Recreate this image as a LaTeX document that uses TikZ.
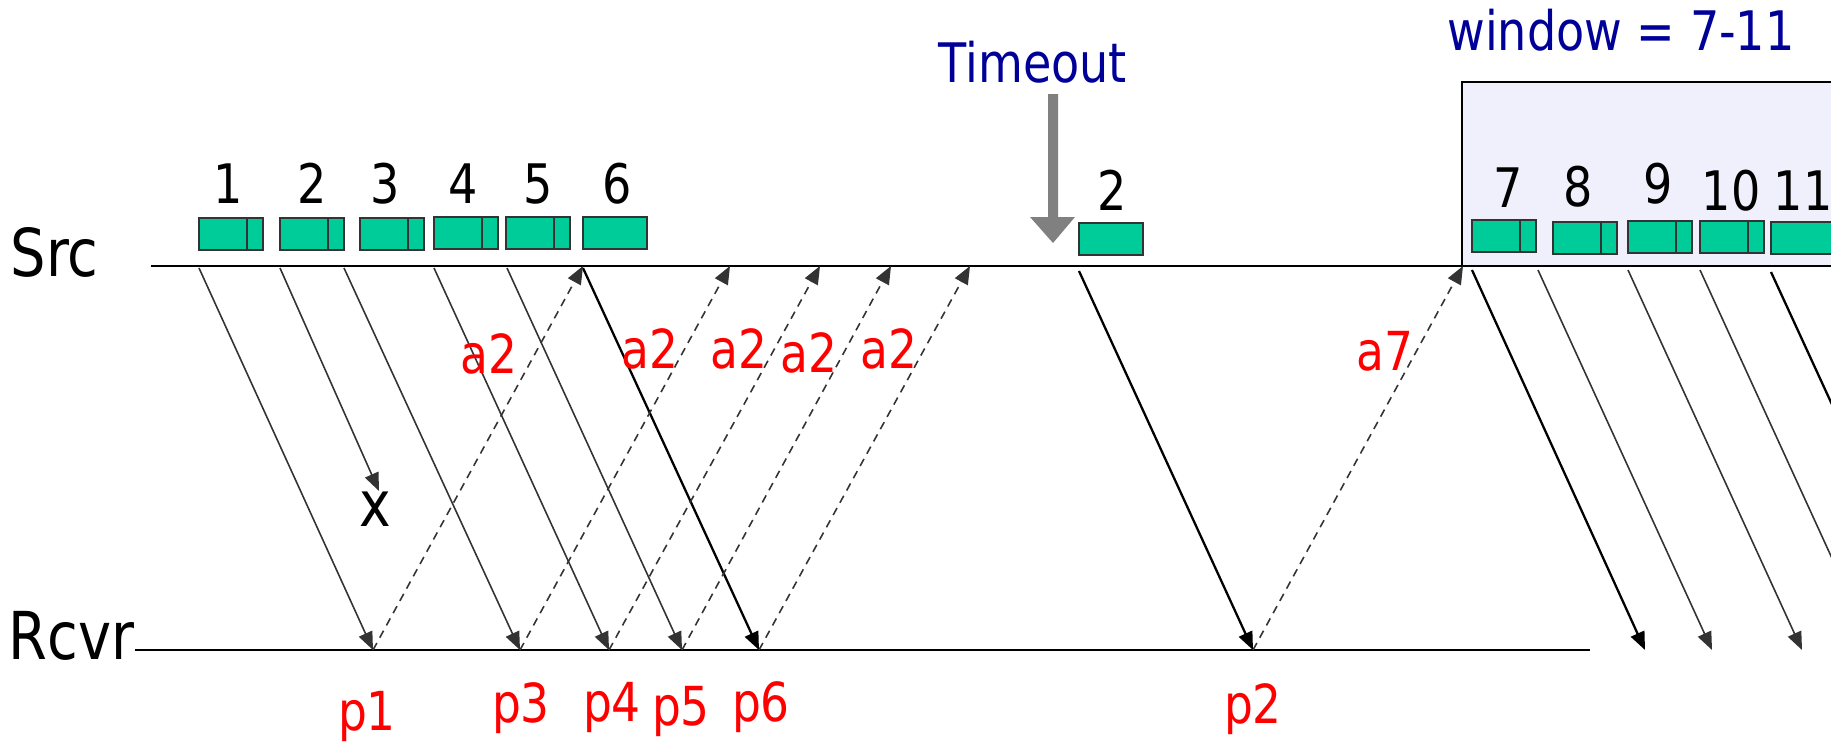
\documentclass[tikz,border=0pt]{standalone}
\usepackage{fontspec}
\setmainfont{DejaVu Sans Condensed}[FakeStretch=0.94]
\usetikzlibrary{arrows.meta}

\definecolor{pktfill}{RGB}{0,204,153}
\definecolor{pktedge}{RGB}{51,51,51}
\definecolor{linegray}{RGB}{51,51,51}
\definecolor{navy}{RGB}{0,0,153}
\definecolor{winfill}{RGB}{240,240,252}
\definecolor{timeoutgray}{RGB}{128,128,128}

\begin{document}
\begin{tikzpicture}[x=0.1mm,y=-0.1mm,
  lbl/.style={font=\fontsize{15.5}{18}\selectfont, inner sep=0, anchor=base},
  host/.style={font=\fontsize{18.8}{22}\selectfont, inner sep=0, anchor=base west},
  redlbl/.style={lbl, text=red, font=\fontsize{15.3}{18}\selectfont},
  bluelbl/.style={lbl, text=navy},
  pkt/.style={draw=pktedge, fill=pktfill, line width=0.6pt,
    minimum width=6.45mm, minimum height=3.2mm, inner sep=0, outer sep=0},
  pktsplit/.style={pkt, path picture={
    \draw[pktedge, line width=0.6pt]
      ([xshift=-1.6mm]path picture bounding box.north east) --
      ([xshift=-1.6mm]path picture bounding box.south east);}},
  tip/.style={-{Triangle[length=1.8mm,width=1.45mm]}},
  data/.style={draw=linegray, line width=0.45pt, tip},
  datab/.style={draw=black, line width=0.65pt, tip},
  ack/.style={draw=linegray, line width=0.45pt, dash pattern=on 0.8mm off 0.6mm, tip},
  timeline/.style={draw=black, line width=0.7pt}
]
\useasboundingbox (0,0) rectangle (1831,741);
\clip (0,0) rectangle (1831,741);

% sender window after the cumulative ack
\filldraw[fill=winfill, draw=black, line width=0.5pt] (1462,82) rectangle (1860,266);

% time lines of the two hosts
\coordinate (srcA) at (151,266);
\coordinate (srcB) at (1840,266);
\coordinate (rcvA) at (135,650);
\coordinate (rcvB) at (1590,650);
\draw[timeline] (srcA) -- (srcB);
\draw[timeline] (rcvA) -- (rcvB);
\node[host] (src) at (10,276) {Src};
\node[host] (rcvr) at (8,659) {Rcvr};

% packets queued at the source
\node[pktsplit] (b1) at (231,234) {};
\node[pktsplit] (b2) at (312,234) {};
\node[pktsplit] (b3) at (392,234) {};
\node[pktsplit] (b4) at (466,233) {};
\node[pktsplit] (b5) at (538,233) {};
\node[pkt]      (b6) at (615,233) {};
\node[pkt]      (b2r) at (1111,239) {};
\node[pktsplit] (b7) at (1504,236) {};
\node[pktsplit] (b8) at (1585,238) {};
\node[pktsplit] (b9) at (1660,237) {};
\node[pktsplit] (b10) at (1732,237) {};
\node[pkt]      (b11) at (1803,238) {};

\node[lbl] (n1) at (228,203) {1};
\node[lbl] (n2) at (312,203) {2};
\node[lbl] (n3) at (385,203) {3};
\node[lbl] (n4) at (463,203) {4};
\node[lbl] (n5) at (538,203) {5};
\node[lbl] (n6) at (617,203) {6};
\node[lbl] (n2r) at (1112,210) {2};
\node[lbl] (n7) at (1508,207) {7};
\node[lbl] (n8) at (1578,206) {8};
\node[lbl] (n9) at (1658,203) {9};
\node[lbl] (n10) at (1731,210) {10};
\node[lbl] (n11) at (1803,210) {11};

% timeout marker
\fill[timeoutgray] (1048,94) -- (1058,94) -- (1058,217) -- (1075,217)
  -- (1053,243) -- (1030,217) -- (1048,217) -- cycle;
\node[bluelbl] (timeout) at (1033,82) {Timeout};
\node[bluelbl] (window) at (1621,50) {window = 7-11};

% send points on the source line
\coordinate (s1) at (199,268);
\coordinate (s2) at (280,268);
\coordinate (s3) at (344,268);
\coordinate (s4) at (434,268);
\coordinate (s5) at (507,268);
\coordinate (s6) at (583,268);
\coordinate (s2r) at (1079,271);
\coordinate (s7) at (1472,270);
\coordinate (s8) at (1538,270);
\coordinate (s9) at (1628,270);
\coordinate (s10) at (1700,270);
\coordinate (s11) at (1771,272);

% arrival points on the receiver line
\coordinate (r1) at (373,650);
\coordinate (lost) at (379,491);
\coordinate (r3) at (520,650);
\coordinate (r4) at (609,650);
\coordinate (r5) at (682,650);
\coordinate (r6) at (759,650);
\coordinate (r2) at (1253,650);
\coordinate (r7) at (1645,650);
\coordinate (r8) at (1712,650);
\coordinate (r9) at (1802,650);
\coordinate (r10) at (1874,650);
\coordinate (r11) at (1945,650);

% ack arrival points back at the source
\coordinate (k1) at (583,266);
\coordinate (k3) at (730,266);
\coordinate (k4) at (820,266);
\coordinate (k5) at (891,266);
\coordinate (k6) at (970,266);
\coordinate (k2) at (1463,266);

% data packets
\draw[data] (s1) -- (r1);
\draw[data] (s2) -- (lost);
\draw[data] (s3) -- (r3);
\draw[data] (s4) -- (r4);
\draw[data] (s5) -- (r5);
\draw[datab] (s6) -- (r6);
\draw[datab] (s2r) -- (r2);
\draw[datab] (s7) -- (r7);
\draw[data] (s8) -- (r8);
\draw[data] (s9) -- (r9);
\draw[data] (s10) -- (r10);
\draw[datab] (s11) -- (r11);
\node[lbl, font=\fontsize{18}{20}\selectfont] (x) at (375,526) {x};

% acknowledgements
\draw[ack] (r1) -- (k1);
\draw[ack] (r3) -- (k3);
\draw[ack] (r4) -- (k4);
\draw[ack] (r5) -- (k5);
\draw[ack] (r6) -- (k6);
\draw[ack] (r2) -- (k2);

\node[redlbl] (a1) at (489,373) {a2};
\node[redlbl] (a3) at (650,368) {a2};
\node[redlbl] (a4) at (739,368) {a2};
\node[redlbl] (a5) at (809,372) {a2};
\node[redlbl] (a6) at (889,368) {a2};
\node[redlbl] (a7) at (1385,370) {a7};

\node[redlbl] (p1) at (367,730) {p1};
\node[redlbl] (p3) at (521,722) {p3};
\node[redlbl] (p4) at (612,721) {p4};
\node[redlbl] (p5) at (681,725) {p5};
\node[redlbl] (p6) at (761,721) {p6};
\node[redlbl] (p2) at (1253,723) {p2};
\end{tikzpicture}
\end{document}
